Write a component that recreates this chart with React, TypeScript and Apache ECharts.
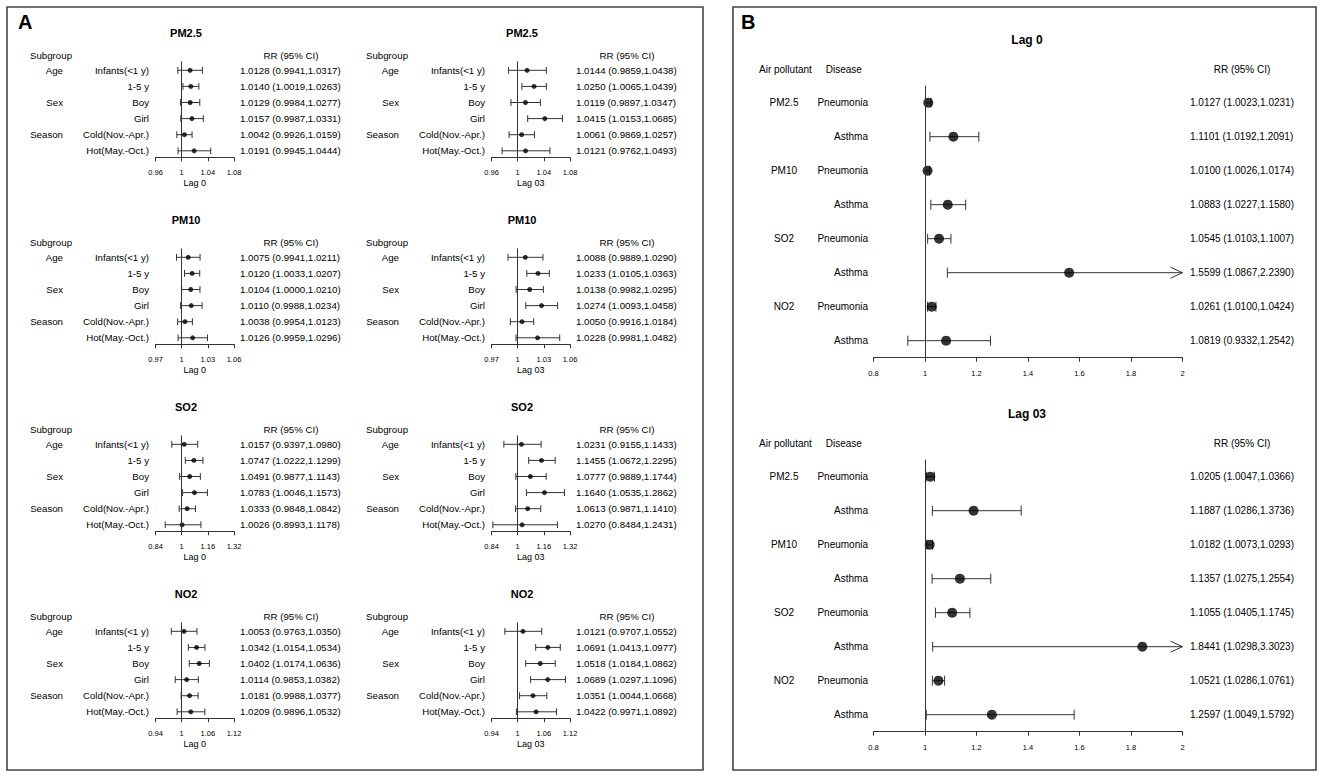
import React, { useEffect, useRef } from "react";
import * as echarts from "echarts";

const FONT = "Liberation Sans, Arial, Helvetica, sans-serif";

// ---------- Panel A data: [RR, lower 95% CI, upper 95% CI] ----------
const subgroupLabels = ["Infants(<1 y)", "1-5 y", "Boy", "Girl", "Cold(Nov.-Apr.)", "Hot(May.-Oct.)"];
const groupLabels = ["Age", "", "Sex", "", "Season", ""];
const pollutantsA = ["PM2.5", "PM10", "SO2", "NO2"];
const lagNames = ["Lag 0", "Lag 03"];

const pm25Lag0 = [
  [1.0128, 0.9941, 1.0317],
  [1.014, 1.0019, 1.0263],
  [1.0129, 0.9984, 1.0277],
  [1.0157, 0.9987, 1.0331],
  [1.0042, 0.9926, 1.0159],
  [1.0191, 0.9945, 1.0444],
];
const pm25Lag03 = [
  [1.0144, 0.9859, 1.0438],
  [1.025, 1.0065, 1.0439],
  [1.0119, 0.9897, 1.0347],
  [1.0415, 1.0153, 1.0685],
  [1.0061, 0.9869, 1.0257],
  [1.0121, 0.9762, 1.0493],
];
const pm10Lag0 = [
  [1.0075, 0.9941, 1.0211],
  [1.012, 1.0033, 1.0207],
  [1.0104, 1.0, 1.021],
  [1.011, 0.9988, 1.0234],
  [1.0038, 0.9954, 1.0123],
  [1.0126, 0.9959, 1.0296],
];
const pm10Lag03 = [
  [1.0088, 0.9889, 1.029],
  [1.0233, 1.0105, 1.0363],
  [1.0138, 0.9982, 1.0295],
  [1.0274, 1.0093, 1.0458],
  [1.005, 0.9916, 1.0184],
  [1.0228, 0.9981, 1.0482],
];
const so2Lag0 = [
  [1.0157, 0.9397, 1.098],
  [1.0747, 1.0222, 1.1299],
  [1.0491, 0.9877, 1.1143],
  [1.0783, 1.0046, 1.1573],
  [1.0333, 0.9848, 1.0842],
  [1.0026, 0.8993, 1.1178],
];
const so2Lag03 = [
  [1.0231, 0.9155, 1.1433],
  [1.1455, 1.0672, 1.2295],
  [1.0777, 0.9889, 1.1744],
  [1.164, 1.0535, 1.2862],
  [1.0613, 0.9871, 1.141],
  [1.027, 0.8484, 1.2431],
];
const no2Lag0 = [
  [1.0053, 0.9763, 1.035],
  [1.0342, 1.0154, 1.0534],
  [1.0402, 1.0174, 1.0636],
  [1.0114, 0.9853, 1.0382],
  [1.0181, 0.9988, 1.0377],
  [1.0209, 0.9896, 1.0532],
];
const no2Lag03 = [
  [1.0121, 0.9707, 1.0552],
  [1.0691, 1.0413, 1.0977],
  [1.0518, 1.0184, 1.0862],
  [1.0689, 1.0297, 1.1096],
  [1.0351, 1.0044, 1.0668],
  [1.0422, 0.9971, 1.0892],
];

const pm25Ticks = [0.96, 1, 1.04, 1.08];
const pm10Ticks = [0.97, 1, 1.03, 1.06];
const so2Ticks = [0.84, 1, 1.16, 1.32];
const no2Ticks = [0.94, 1, 1.06, 1.12];

const panelATicks = [pm25Ticks, pm10Ticks, so2Ticks, no2Ticks];
const panelAData = [
  [pm25Lag0, pm25Lag03],
  [pm10Lag0, pm10Lag03],
  [so2Lag0, so2Lag03],
  [no2Lag0, no2Lag03],
];

// ---------- Panel B data ----------
const pollutantsB = ["PM2.5", "", "PM10", "", "SO2", "", "NO2", ""];
const diseasesB = ["Pneumonia", "Asthma", "Pneumonia", "Asthma", "Pneumonia", "Asthma", "Pneumonia", "Asthma"];
const lagTitlesB = ["Lag 0", "Lag 03"];
const lag0B = [
  [1.0127, 1.0023, 1.0231],
  [1.1101, 1.0192, 1.2091],
  [1.01, 1.0026, 1.0174],
  [1.0883, 1.0227, 1.158],
  [1.0545, 1.0103, 1.1007],
  [1.5599, 1.0867, 2.239],
  [1.0261, 1.01, 1.0424],
  [1.0819, 0.9332, 1.2542],
];
const lag03B = [
  [1.0205, 1.0047, 1.0366],
  [1.1887, 1.0286, 1.3736],
  [1.0182, 1.0073, 1.0293],
  [1.1357, 1.0275, 1.2554],
  [1.1055, 1.0405, 1.1745],
  [1.8441, 1.0298, 3.3023],
  [1.0521, 1.0286, 1.0761],
  [1.2597, 1.0049, 1.5792],
];
const panelBTicks = [0.8, 1, 1.2, 1.4, 1.6, 1.8, 2];

const fmtTick = (v: number) => Number(v.toFixed(4)).toString();
const rrText = (r: number[]) => `${r[0].toFixed(4)} (${r[1].toFixed(4)},${r[2].toFixed(4)})`;

const LINE = "#333";

function txt(x: number, y: number, text: string, size: number, align: string, bold = false): any {
  return {
    type: "text",
    x,
    y,
    silent: true,
    style: {
      text,
      fill: "#000",
      fontSize: size,
      fontFamily: FONT,
      fontWeight: bold ? "bold" : "normal",
      align,
      verticalAlign: "middle",
      textAlign: align,
      textVerticalAlign: "middle",
    },
  };
}

function buildOption() {
  const grid: any[] = [];
  const xAxis: any[] = [];
  const yAxis: any[] = [];
  const series: any[] = [];
  const graphic: any[] = [];

  const addForest = (c: any) => {
    const gi = grid.length;
    const xmin = c.ticks[0];
    const xmax = c.ticks[c.ticks.length - 1];
    grid.push({
      left: c.left,
      top: c.top,
      width: c.width,
      height: c.height,
      containLabel: false,
      outerBoundsMode: "none",
      show: false,
    });
    xAxis.push({
      type: "value",
      gridIndex: gi,
      min: xmin,
      max: xmax,
      axisLine: { show: true, onZero: false, lineStyle: { color: LINE, width: 1 } },
      axisTick: { show: true, inside: false, length: 4, customValues: c.ticks, lineStyle: { color: LINE, width: 1 } },
      axisLabel: {
        show: true,
        customValues: c.ticks,
        formatter: (v: number) => fmtTick(v),
        fontSize: c.tickFont,
        fontFamily: FONT,
        color: "#000",
        margin: c.labelMargin,
        hideOverlap: false,
        showMinLabel: true,
        showMaxLabel: true,
      },
      splitLine: { show: false },
      name: c.axisName || "",
      nameLocation: "middle",
      nameGap: c.nameGap || 20,
      nameTextStyle: { fontSize: c.nameFont || 9, fontFamily: FONT, color: "#000" },
    });
    yAxis.push({ type: "value", gridIndex: gi, min: c.yMin, max: c.yMax, inverse: true, show: false });

    series.push({
      type: "custom",
      xAxisIndex: gi,
      yAxisIndex: gi,
      silent: true,
      clip: false,
      data: c.rows.map((r: number[], i: number) => [i, r[0], r[1], r[2]]),
      encode: { x: 1, y: 0 },
      renderItem: (params: any, api: any) => {
        const idx = params.dataIndex;
        const row = api.value(0);
        const lo = api.value(2);
        const hi = api.value(3);
        const cs = params.coordSys;
        const y = api.coord([xmin, row])[1];
        const x1 = api.coord([Math.max(lo, xmin), row])[0];
        const x2 = api.coord([Math.min(hi, xmax), row])[0];
        const ls = { stroke: LINE, lineWidth: 1 };
        const children: any[] = [
          { type: "line", shape: { x1, y1: y, x2, y2: y }, style: ls },
          { type: "line", shape: { x1, y1: y - c.capHalf, x2: x1, y2: y + c.capHalf }, style: ls },
        ];
        if (hi > xmax) {
          children.push({
            type: "polyline",
            shape: { points: [[x2 - 12, y - 5.5], [x2, y], [x2 - 12, y + 5.5]] },
            style: { stroke: LINE, lineWidth: 1, fill: "none" },
          });
        } else {
          children.push({ type: "line", shape: { x1: x2, y1: y - c.capHalf, x2, y2: y + c.capHalf }, style: ls });
        }
        c.labels.forEach((lab: any) => {
          const t = lab.text[idx];
          if (t) children.push(txt(cs.x + lab.dx, y, t, c.fontSize, lab.align));
        });
        children.push(txt(cs.x + c.rrDx, y, rrText(c.rows[idx]), c.fontSize, "left"));
        return { type: "group", children };
      },
    });

    series.push({
      type: "scatter",
      xAxisIndex: gi,
      yAxisIndex: gi,
      silent: true,
      z: 4,
      symbol: "circle",
      symbolSize: c.dotSize,
      itemStyle: { color: "#000" },
      data: c.rows.map((r: number[], i: number) => [r[0], i]),
      markLine: {
        silent: true,
        symbol: ["none", "none"],
        label: { show: false },
        lineStyle: { color: LINE, width: 1, type: "solid" },
        data: [{ xAxis: 1 }],
      },
    });
  };

  // Panel A
  for (let p = 0; p < 4; p++) {
    const bOff = 187 * p;
    for (let k = 0; k < 2; k++) {
      const cOff = 336 * k;
      addForest({
        left: 155.5 + cOff,
        top: 61.45 + bOff,
        width: 78.5,
        height: 95.8,
        yMin: -0.55,
        yMax: 5.4,
        ticks: panelATicks[p],
        rows: panelAData[p][k],
        labels: [
          { text: groupLabels, dx: -92.5, align: "right" },
          { text: subgroupLabels, dx: -6.5, align: "right" },
        ],
        rrDx: 84.5,
        fontSize: 9.7,
        tickFont: 7.5,
        labelMargin: 11.5,
        axisName: lagNames[k],
        nameGap: 21,
        nameFont: 9,
        dotSize: 5,
        capHalf: 3.4,
      });
      graphic.push(txt(186 + cOff, 33 + bOff, pollutantsA[p], 11, "center", true));
      graphic.push(txt(30 + cOff, 55.3 + bOff, "Subgroup", 9.7, "left"));
      graphic.push(txt(291 + cOff, 55.3 + bOff, "RR (95% CI)", 9.7, "center"));
    }
  }

  // Panel B
  [lag0B, lag03B].forEach((rows, k) => {
    const off = 374 * k;
    addForest({
      left: 873.5,
      top: 85.7 + off,
      width: 309,
      height: 272,
      yMin: -0.5,
      yMax: 7.5,
      ticks: panelBTicks,
      rows,
      labels: [
        { text: pollutantsB, dx: -89.5, align: "center" },
        { text: diseasesB, dx: -5.5, align: "right" },
      ],
      rrDx: 316.5,
      fontSize: 10,
      tickFont: 7.5,
      labelMargin: 12,
      dotSize: 10,
      capHalf: 5,
    });
    graphic.push(txt(1027, 40 + off, lagTitlesB[k], 12, "center", true));
    graphic.push(txt(759, 69 + off, "Air pollutant", 10, "left"));
    graphic.push(txt(825.7, 69 + off, "Disease", 10, "left"));
    graphic.push(txt(1242, 69 + off, "RR (95% CI)", 10, "center"));
  });

  // Panel frames and letters
  graphic.push({
    type: "rect",
    silent: true,
    shape: { x: 7, y: 7, width: 696, height: 763 },
    style: { fill: "none", stroke: "#444", lineWidth: 1.6 },
  });
  graphic.push({
    type: "rect",
    silent: true,
    shape: { x: 733, y: 7, width: 583, height: 763 },
    style: { fill: "none", stroke: "#444", lineWidth: 1.6 },
  });
  graphic.push(txt(18, 22, "A", 20, "left", true));
  graphic.push(txt(741, 22, "B", 20, "left", true));

  return {
    animation: false,
    backgroundColor: "#fff",
    grid,
    xAxis,
    yAxis,
    series,
    graphic: { elements: graphic },
  };
}

export default function App() {
  const ref = useRef<HTMLDivElement>(null);
  useEffect(() => {
    if (!ref.current) return;
    const chart = echarts.init(ref.current, undefined, { renderer: "svg" });
    chart.setOption(buildOption() as any);
    return () => chart.dispose();
  }, []);
  return (
    <div
      ref={ref}
      style={{ position: "absolute", left: 0, top: 0, width: 1325, height: 780, background: "#fff" }}
    />
  );
}
